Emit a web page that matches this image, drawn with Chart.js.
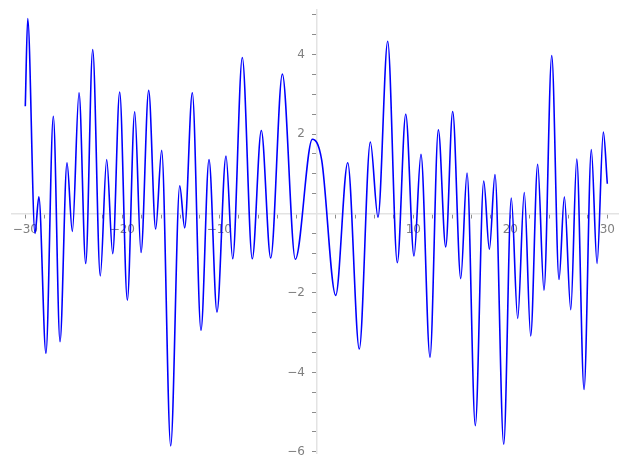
<!DOCTYPE html>
<html>
<head>
<meta charset="utf-8">
<script src="https://cdn.jsdelivr.net/npm/chart.js@4"></script>
<style>
  html, body { margin: 0; padding: 0; background: #fff; }
  #wrap { width: 627px; height: 469px; }
</style>
</head>
<body>
<div id="wrap"><canvas id="plot" width="627" height="469"></canvas></div>
<script>
// turning points of the curve
const xValues = [-30, -29.75, -29.0, -28.6, -27.87, -27.11, -26.42, -25.7, -25.15, -24.46,
  -23.77, -23.05, -22.27, -21.61, -20.99, -20.27, -19.48, -18.72, -18.07, -17.28,
  -16.56, -15.94, -15.01, -14.08, -13.57, -12.78, -11.89, -11.06, -10.24, -9.31,
  -8.62, -7.63, -6.60, -5.67, -4.70, -3.50, -2.16, -0.41, 0.56, 2.0,
  3.24, 4.43, 5.57, 6.36, 7.36, 8.35, 9.22, 10.07, 10.79, 11.72,
  12.58, 13.34, 14.06, 14.89, 15.54, 16.39, 17.26, 17.84, 18.42, 19.32,
  20.10, 20.76, 21.44, 22.10, 22.82, 23.47, 24.27, 25.02, 25.57, 26.23,
  26.85, 27.60, 28.35, 28.94, 29.59, 30];
const yValues = [2.70, 4.91, -0.50, 0.42, -3.52, 2.45, -3.23, 1.28, -0.45, 3.04,
  -1.26, 4.13, -1.57, 1.36, -1.01, 3.06, -2.18, 2.56, -0.98, 3.10,
  -0.39, 1.59, -5.85, 0.70, -0.36, 3.04, -2.94, 1.36, -2.48, 1.45,
  -1.14, 3.93, -1.14, 2.09, -1.12, 3.51, -1.15, 1.87, 1.34, -2.06,
  1.28, -3.41, 1.80, -0.09, 4.34, -1.24, 2.50, -1.07, 1.49, -3.62,
  2.11, -0.84, 2.57, -1.64, 1.02, -5.34, 0.82, -0.90, 0.98, -5.81,
  0.39, -2.64, 0.53, -3.08, 1.24, -1.93, 3.98, -1.66, 0.42, -2.42,
  1.37, -4.43, 1.61, -1.26, 2.05, 0.75];

const xLabels = [-30, -20, -10, 10, 20, 30];
const yLabels = [-6, -4, -2, 2, 4];

const points = xValues.map((x, i) => ({ x: x, y: yValues[i] }));

const fmt = (v) => (v < 0 ? '\u2212' + Math.abs(v) : String(v));

function stepTicks(from, to, step) {
  const out = [];
  for (let v = from; v <= to + 1e-9; v += step) out.push({ value: Math.round(v * 100) / 100 });
  return out;
}

const axisColor = '#e3e3e3';
const tickColor = '#8c8c8c';
const labelColor = '#808080';

new Chart(document.getElementById('plot').getContext('2d'), {
  type: 'line',
  data: {
    datasets: [{
      data: points,
      borderColor: '#0000ff',
      borderWidth: 1.6,
      pointRadius: 0,
      fill: false,
      cubicInterpolationMode: 'monotone',
    }],
  },
  options: {
    responsive: false,
    animation: false,
    layout: { padding: { left: 12, right: 9, top: 10, bottom: 16 } },
    plugins: { legend: { display: false }, tooltip: { enabled: false } },
    scales: {
      x: {
        type: 'linear',
        position: { y: 0 },
        min: -31.37,
        max: 31.1,
        afterFit: (s) => { s.height = 0; },
        afterBuildTicks: (s) => { s.ticks = stepTicks(-30, 30, 2); },
        border: { display: true, color: axisColor, width: 1.5 },
        grid: { drawOnChartArea: false, drawTicks: true, tickLength: 4, color: tickColor, lineWidth: 1 },
        ticks: {
          autoSkip: false,
          maxRotation: 0,
          padding: 5,
          color: labelColor,
          font: { family: 'DejaVu Sans', size: 12 },
          callback: (v) => (xLabels.includes(v) ? fmt(v) : ''),
        },
      },
      y: {
        type: 'linear',
        position: { x: 0 },
        min: -6.03,
        max: 5.12,
        afterFit: (s) => { s.width = 0; },
        afterBuildTicks: (s) => { s.ticks = stepTicks(-6, 5, 0.5); },
        border: { display: true, color: axisColor, width: 1.5 },
        grid: { drawOnChartArea: false, drawTicks: true, tickLength: 4, color: tickColor, lineWidth: 1 },
        ticks: {
          autoSkip: false,
          color: labelColor,
          font: { family: 'DejaVu Sans', size: 12 },
          // centred axis puts labels flush on the line, pad them off with spaces
          callback: (v) => (yLabels.includes(v) ? fmt(v) + '   ' : ''),
        },
      },
    },
  },
});
</script>
</body>
</html>
